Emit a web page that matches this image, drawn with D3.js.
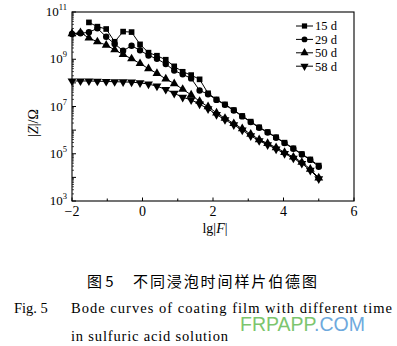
<!DOCTYPE html>
<html><head><meta charset="utf-8">
<script src="https://cdn.jsdelivr.net/npm/d3@7"></script>
<style>body{margin:0;background:#fff}svg{display:block}</style>
</head><body>
<script>
// lg(F) sampling positions
const lgF = [-2.00,-1.76,-1.52,-1.28,-1.03,-0.79,-0.55,-0.31,-0.07,0.17,0.41,0.66,0.90,1.14,1.38,1.62,1.86,2.10,2.34,2.59,2.83,3.07,3.31,3.55,3.79,4.03,4.28,4.52,4.76,5.00];
// log10 |Z| for each series (null = no point)
const z15 = [null,null,10.56,10.38,10.28,9.74,10.17,10.15,9.63,9.28,9.15,8.98,8.70,8.47,8.33,8.15,7.56,7.30,7.09,6.85,6.60,6.36,6.12,5.92,5.70,5.47,5.23,4.99,4.76,4.50];
const z29 = [10.07,10.10,10.14,10.31,9.95,9.65,9.36,9.57,9.38,9.16,9.02,8.80,8.52,8.36,8.19,7.68,7.52,7.28,7.07,6.83,6.58,6.34,6.10,5.90,5.68,5.45,5.21,4.97,4.74,4.45];
const z50 = [10.08,10.13,9.90,9.74,9.60,9.40,9.20,9.02,8.82,8.60,8.40,8.17,7.97,7.73,7.49,7.22,6.99,6.73,6.50,6.28,6.06,5.83,5.60,5.44,5.26,5.06,4.86,4.64,4.35,3.98];
const z58 = [8.08,8.08,8.08,8.07,8.06,8.05,8.04,8.03,8.00,7.95,7.86,7.72,7.56,7.39,7.28,7.10,6.90,6.66,6.44,6.22,6.00,5.76,5.55,5.38,5.20,5.01,4.81,4.59,4.30,3.94];
const seriesNames = ["15 d","29 d","50 d","58 d"];
const xTicks = [-2,-1,0,1,2,3,4,5,6];
const xTickLabels = ["\u22122","","0","","2","","4","","6"];
const yLabelExps = [3,5,7,9,11];

const W = 397, H = 346;
const svg = d3.select("body").append("svg").attr("width", W).attr("height", H);
const serif = "'Liberation Serif','Times New Roman',serif";

const x = d3.scaleLinear().domain([-2, 6]).range([72, 354]);
const y = d3.scaleLog().domain([1e3, 1e11]).range([201, 12]);

// frame
svg.append("rect").attr("x", x(-2)).attr("y", y(1e11))
  .attr("width", x(6) - x(-2)).attr("height", y(1e3) - y(1e11))
  .attr("fill", "none").attr("stroke", "#000").attr("stroke-width", 1.1);

// x ticks
const gx = svg.append("g");
xTicks.forEach((t, i) => {
  const major = i % 2 === 0;
  gx.append("line").attr("x1", x(t)).attr("x2", x(t))
    .attr("y1", y(1e3)).attr("y2", y(1e3) - (major ? 3.5 : 2.5))
    .attr("stroke", "#000").attr("stroke-width", 1);
  if (xTickLabels[i]) {
    gx.append("text").attr("x", x(t)).attr("y", 216)
      .attr("text-anchor", "middle").attr("font-family", serif)
      .attr("font-size", 14).text(xTickLabels[i]);
  }
});

// y ticks (log)
const gy = svg.append("g");
for (let e = 3; e <= 11; e++) {
  const v = Math.pow(10, e);
  gy.append("line").attr("x1", x(-2)).attr("x2", x(-2) + 4)
    .attr("y1", y(v)).attr("y2", y(v)).attr("stroke", "#000");
  if (e < 11) {
    for (let k = 2; k <= 9; k++) {
      gy.append("line").attr("x1", x(-2)).attr("x2", x(-2) + 2)
        .attr("y1", y(k * v)).attr("y2", y(k * v)).attr("stroke", "#000").attr("stroke-width", 0.7);
    }
  }
}
yLabelExps.forEach(e => {
  const t = gy.append("text").attr("x", 67).attr("y", y(Math.pow(10, e)) + 4)
    .attr("text-anchor", "end").attr("font-family", serif).attr("font-size", 13);
  t.append("tspan").text("10");
  t.append("tspan").attr("dy", -6).attr("font-size", 8.5).text(String(e));
});

// axis titles
const xt = svg.append("text").attr("x", 215).attr("y", 233).attr("text-anchor", "middle")
  .attr("font-family", serif).attr("font-size", 14);
xt.append("tspan").text("lg|");
xt.append("tspan").attr("font-style", "italic").text("F");
xt.append("tspan").text("|");

const yt = svg.append("text").attr("transform", "translate(38,123) rotate(-90)")
  .attr("text-anchor", "middle").attr("font-family", serif).attr("font-size", 14);
yt.append("tspan").text("|");
yt.append("tspan").attr("font-style", "italic").text("Z");
yt.append("tspan").text("|/\u03A9");

// series
const symbols = [d3.symbolSquare, d3.symbolCircle, d3.symbolTriangle, d3.symbolTriangle];
const sizes = [32, 32, 34, 34];
const rot = [0, 0, 0, 180];
const data = [z15, z29, z50, z58];
const line = d3.line().defined(d => d.v !== null).x(d => x(d.f)).y(d => y(Math.pow(10, d.v)));

data.forEach((arr, si) => {
  const pts = arr.map((v, i) => ({ f: lgF[i], v }));
  svg.append("path").attr("d", line(pts)).attr("fill", "none")
    .attr("stroke", "#000").attr("stroke-width", 1);
  const sym = d3.symbol().type(symbols[si]).size(sizes[si]);
  svg.append("g").selectAll("path").data(pts.filter(d => d.v !== null)).join("path")
    .attr("d", sym)
    .attr("transform", d => `translate(${x(d.f)},${y(Math.pow(10, d.v))}) rotate(${rot[si]})`)
    .attr("fill", "#000");
});

// legend
seriesNames.forEach((name, si) => {
  const ly = 26 + si * 13.4;
  svg.append("line").attr("x1", 296).attr("x2", 313).attr("y1", ly).attr("y2", ly)
    .attr("stroke", "#000").attr("stroke-width", 1);
  svg.append("path").attr("d", d3.symbol().type(symbols[si]).size(sizes[si] * 0.85))
    .attr("transform", `translate(304.5,${ly}) rotate(${rot[si]})`).attr("fill", "#000");
  svg.append("text").attr("x", 315).attr("y", ly + 4.3).attr("font-family", serif)
    .attr("font-size", 12.5).text(name);
});

// captions
const cjk = "'Noto Sans CJK SC','Noto Sans',sans-serif";
svg.append("text").attr("x", 87).attr("y", 287).attr("font-family", cjk)
  .attr("font-size", 15).text("图 5");
svg.append("text").attr("x", 133).attr("y", 287).attr("font-family", cjk)
  .attr("font-size", 15).attr("textLength", 184).attr("lengthAdjust", "spacing")
  .text("不同浸泡时间样片伯德图");
svg.append("text").attr("x", 14).attr("y", 313).attr("font-family", serif)
  .attr("font-size", 14.5).text("Fig. 5");
svg.append("text").attr("x", 71).attr("y", 313).attr("font-family", serif)
  .attr("font-size", 14.5).attr("textLength", 321).attr("lengthAdjust", "spacing")
  .text("Bode curves of coating film with different time");
svg.append("text").attr("x", 71).attr("y", 341).attr("font-family", serif)
  .attr("font-size", 14.5).attr("textLength", 157).attr("lengthAdjust", "spacing")
  .text("in sulfuric acid solution");

// watermark
const wm = svg.append("text").attr("x", 240).attr("y", 331)
  .attr("font-family", "'Liberation Sans',Arial,sans-serif").attr("font-size", 19.5);
wm.append("tspan").attr("fill", "#7cc56e").text("FRPAPP");
wm.append("tspan").attr("fill", "#6ea9dd").text(".COM");
</script>
</body></html>
